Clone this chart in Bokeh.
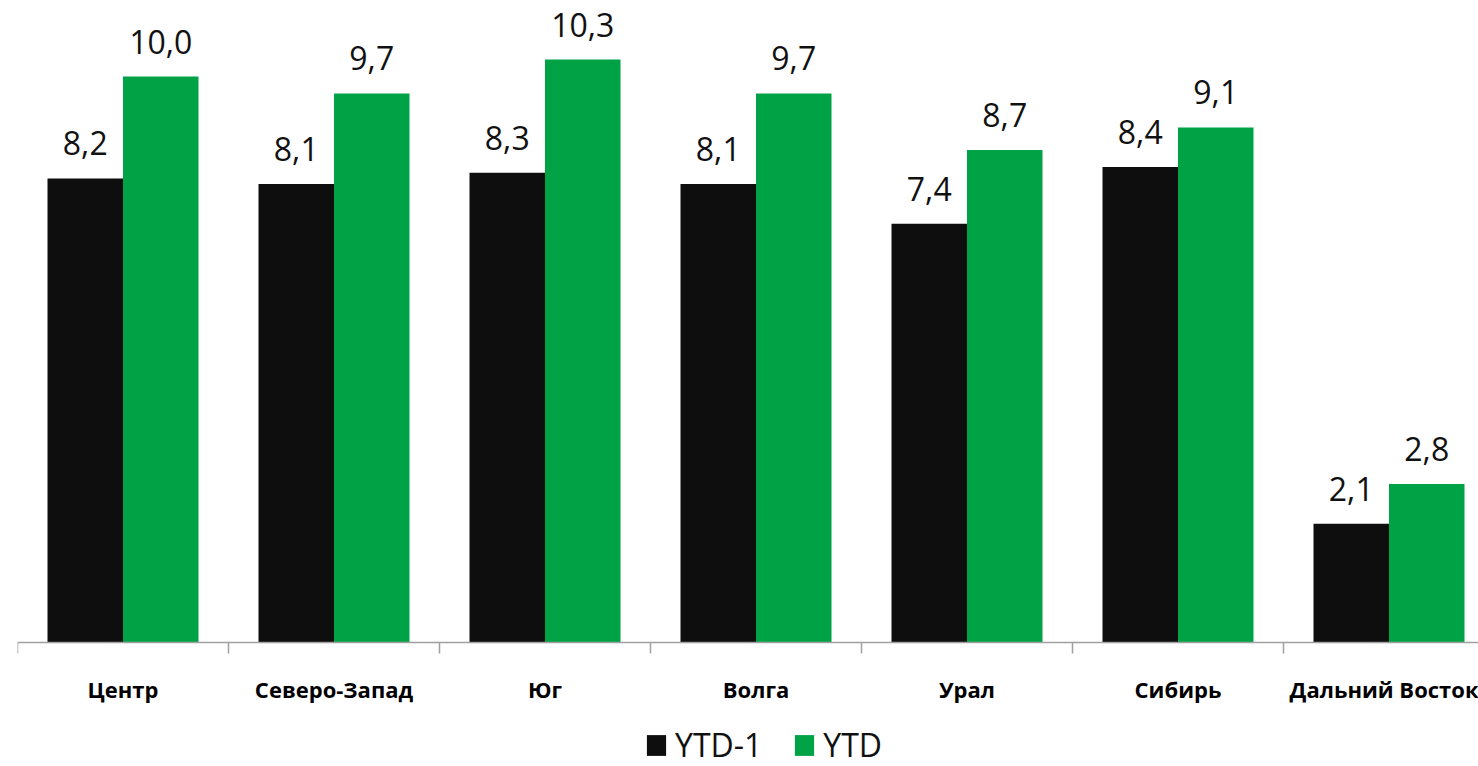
from bokeh.plotting import figure
from bokeh.models import (ColumnDataSource, FixedTicker, Range1d, LabelSet,
                          Legend, LegendItem)
from bokeh.core.properties import value
from bokeh.transform import dodge
from bokeh.embed import file_html
from bokeh.resources import INLINE

categories = ["Центр", "Северо-Запад", "Юг", "Волга", "Урал", "Сибирь", "Дальний Восток"]
ytd1 = [8.2, 8.1, 8.3, 8.1, 7.4, 8.4, 2.1]
ytd = [10.0, 9.7, 10.3, 9.7, 8.7, 9.1, 2.8]
series_names = ["YTD-1", "YTD"]

BLACK = "#0e0e0e"
GREEN = "#00a246"

xs = [i + 0.5 for i in range(len(categories))]
src = ColumnDataSource(dict(
    x=xs, ytd1=ytd1, ytd=ytd,
    l1=[f"{v:.1f}".replace(".", ",") for v in ytd1],
    l2=[f"{v:.1f}".replace(".", ",") for v in ytd],
))

W, H = 1478, 766
left = 17
frame_w = W - left
px_per_cat = 211.0
px_per_unit = 56.6
base_px = 642  # pixel row of the value 0

p = figure(width=W, height=H, output_backend="svg", toolbar_location=None,
           x_range=Range1d(0, frame_w / px_per_cat),
           y_range=Range1d(-(H - base_px) / px_per_unit, base_px / px_per_unit),
           min_border_left=left, min_border_right=0, min_border_top=0,
           min_border_bottom=0)
p.outline_line_color = None
p.grid.visible = False
p.yaxis.visible = False
p.background_fill_color = "white"
p.border_fill_color = "white"

bw = 75.5 / px_per_cat
r1 = p.vbar(x=dodge("x", -bw / 2, range=p.x_range), top="ytd1", bottom=0, width=bw,
            source=src, fill_color=BLACK, line_color=None)
r2 = p.vbar(x=dodge("x", bw / 2, range=p.x_range), top="ytd", bottom=0, width=bw,
            source=src, fill_color=GREEN, line_color=None)

for col, txt, off in (("ytd1", "l1", -bw / 2), ("ytd", "l2", bw / 2)):
    p.add_layout(LabelSet(x=dodge("x", off, range=p.x_range), y=col, text=txt,
                          source=src, y_offset=23, text_align="center",
                          text_baseline="alphabetic", text_font=value("Open Sans"),
                          text_font_size=value("32px"), text_color=value("#111111")))

ax = p.xaxis[0]
ax.fixed_location = 0
ax.ticker = FixedTicker(ticks=xs, minor_ticks=list(range(len(categories) + 1)))
ax.major_label_overrides = {x: c for x, c in zip(xs, categories)}
ax.major_tick_line_color = None
ax.major_tick_out = 11
ax.major_tick_in = 0
ax.minor_tick_line_color = "#a0a0a0"
ax.minor_tick_line_width = 1.5
ax.minor_tick_out = 11
ax.minor_tick_in = 0
ax.axis_line_color = "#a0a0a0"
ax.axis_line_width = 1.5
ax.major_label_standoff = 20
ax.major_label_text_font = "Open Sans"
ax.major_label_text_font_style = "bold"
ax.major_label_text_font_size = "22px"
ax.major_label_text_color = "#000000"

legend = Legend(items=[LegendItem(label=series_names[0], renderers=[r1]),
                       LegendItem(label=series_names[1], renderers=[r2])],
                location=(627, 0), orientation="horizontal",
                glyph_width=24, glyph_height=26, label_standoff=7, spacing=30,
                padding=0, margin=0, border_line_color=None,
                background_fill_alpha=0, label_text_font="Open Sans",
                label_text_font_size="32px", label_text_color="#111111",
                label_height=24)
p.add_layout(legend, "center")

open("out.html", "w").write(file_html(p, INLINE))
